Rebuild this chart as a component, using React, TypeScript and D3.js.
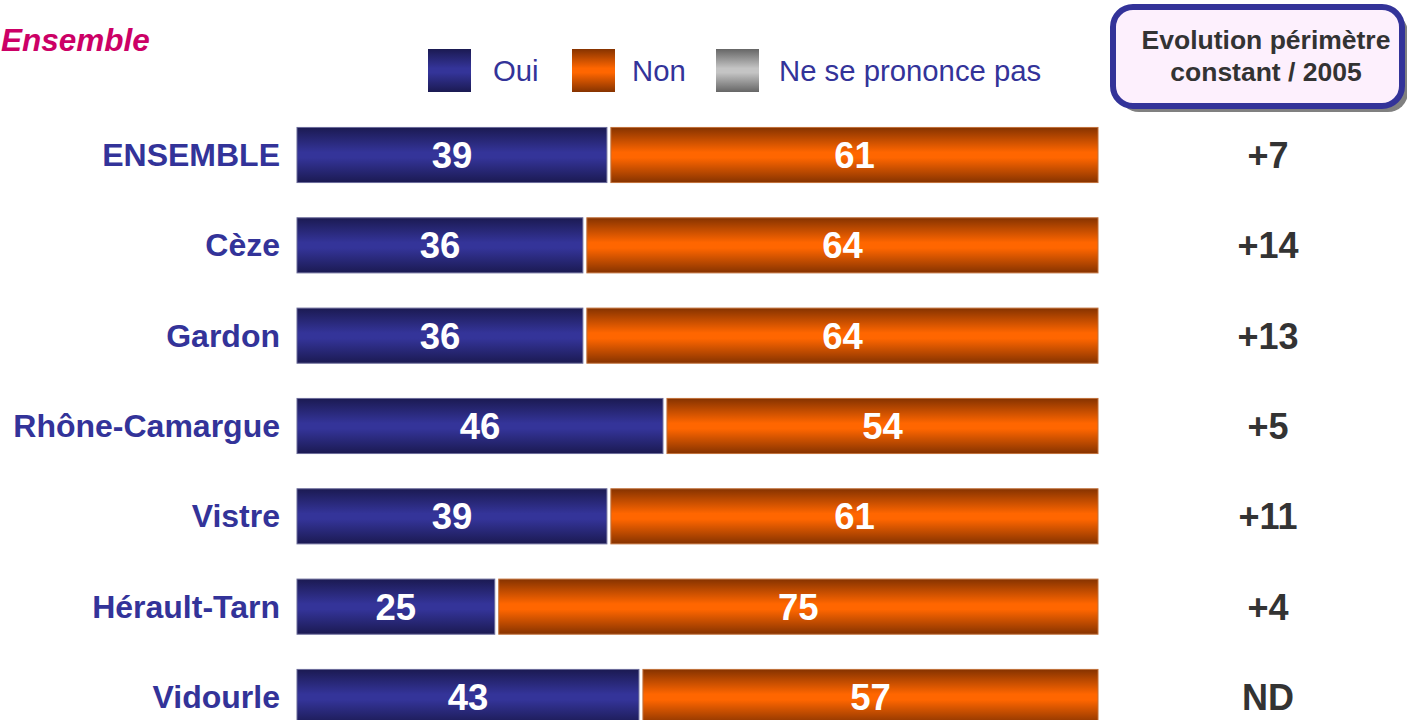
import React from "react";
import * as d3 from "d3";

const categories = ["ENSEMBLE", "Cèze", "Gardon", "Rhône-Camargue", "Vistre", "Hérault-Tarn", "Vidourle"];
const oui = [39, 36, 36, 46, 39, 25, 43];
const non = [61, 64, 64, 54, 61, 75, 57];
const evolution = ["+7", "+14", "+13", "+5", "+11", "+4", "ND"];
const legendItems = ["Oui", "Non", "Ne se prononce pas"];
const title = "Ensemble";
const boxLines = ["Evolution périmètre", "constant / 2005"];

const W = 1407;
const H = 720;
const FONT = "'Liberation Sans', Arial, sans-serif";

export default function App() {
  const x = d3.scaleLinear().domain([0, 100]).range([297, 1098]);
  const step = 90.33;
  const y0 = 155 - step / 2;
  const y = d3
    .scaleBand<string>()
    .domain(categories)
    .range([y0, y0 + step * categories.length])
    .paddingInner(0.39)
    .paddingOuter(0.195);
  const bw = y.bandwidth();

  const grads = [
    { id: "gOui", edge: "#1b1a52", mid: "#343499" },
    { id: "gNon", edge: "#863300", mid: "#ff6600" },
    { id: "gNsp", edge: "#666666", mid: "#c4c4c4" },
  ];
  const legendX = [428, 572, 716];
  const legendTextX = [493, 632, 779];

  return (
    <svg
      width={W}
      height={H}
      style={{ position: "absolute", left: 0, top: 0, background: "#fff" }}
      fontFamily={FONT}
    >
      <defs>
        {grads.map((g) => (
          <linearGradient key={g.id} id={g.id} x1="0" y1="0" x2="0" y2="1">
            <stop offset="0%" stopColor={g.edge} />
            <stop offset="45%" stopColor={g.mid} />
            <stop offset="55%" stopColor={g.mid} />
            <stop offset="100%" stopColor={g.edge} />
          </linearGradient>
        ))}
      </defs>

      <text x={1} y={51} fill="#cc0066" fontSize={31.5} fontWeight="bold" fontStyle="italic">
        {title}
      </text>

      {legendItems.map((t, i) => (
        <g key={t}>
          <rect x={legendX[i]} y={49} width={43} height={43} fill={`url(#${grads[i].id})`} />
          <text x={legendTextX[i]} y={81} fill="#333399" fontSize={29.3}>
            {t}
          </text>
        </g>
      ))}

      <rect x={1119} y={13} width={289} height={99} rx={20} fill="#808080" />
      <rect x={1113} y={7} width={289} height={99} rx={20} fill="#fdf0fd" stroke="#333399" strokeWidth={6} />
      {boxLines.map((t, i) => (
        <text key={t} x={1266} y={49 + i * 32} textAnchor="middle" fill="#333333" fontSize={26.5} fontWeight="bold">
          {t}
        </text>
      ))}

      {categories.map((c, i) => {
        const top = y(c)!;
        const cy = top + bw / 2;
        const xo = x(oui[i]);
        return (
          <g key={c}>
            <text x={280} y={cy + 11} textAnchor="end" fill="#333399" fontSize={32} fontWeight="bold">
              {c}
            </text>
            <rect
              x={x(0)}
              y={top}
              width={xo - 2.5 - x(0)}
              height={bw}
              fill="url(#gOui)"
              stroke="#6b6b9a"
              strokeWidth={1}
            />
            <rect
              x={xo + 1.5}
              y={top}
              width={x(100) - xo - 1.5}
              height={bw}
              fill="url(#gNon)"
              stroke="#c0703a"
              strokeWidth={1}
            />
            <text x={(x(0) + xo - 2.5) / 2} y={cy + 13} textAnchor="middle" fill="#fff" fontSize={36.5} fontWeight="bold">
              {oui[i]}
            </text>
            <text x={(xo + 1.5 + x(100)) / 2} y={cy + 13} textAnchor="middle" fill="#fff" fontSize={36.5} fontWeight="bold">
              {non[i]}
            </text>
            <text x={1268} y={cy + 13} textAnchor="middle" fill="#333333" fontSize={36} fontWeight="bold">
              {evolution[i]}
            </text>
          </g>
        );
      })}
    </svg>
  );
}
